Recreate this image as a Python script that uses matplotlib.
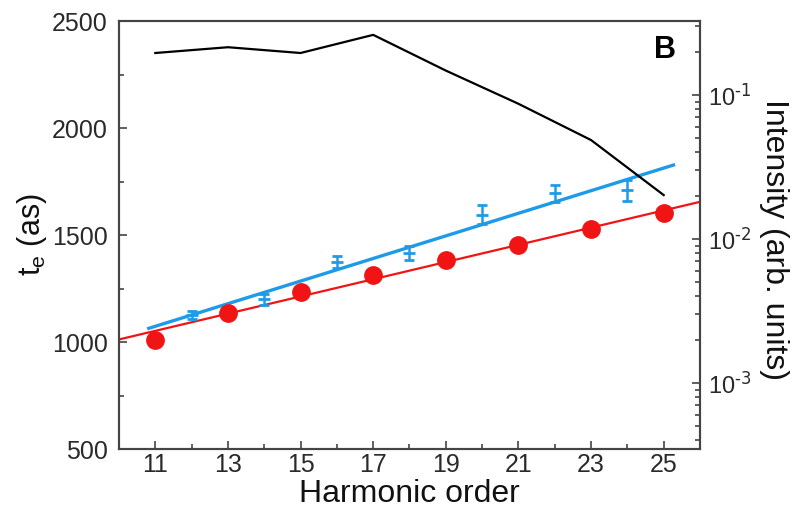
import matplotlib
matplotlib.use('Agg')
import matplotlib.pyplot as plt
from matplotlib.ticker import MultipleLocator, LogLocator, NullFormatter, FixedLocator, FixedFormatter

plt.rcParams['font.family'] = ['Liberation Sans', 'DejaVu Sans']
plt.rcParams['mathtext.default'] = 'regular'

# Data
harm_odd = [11, 13, 15, 17, 19, 21, 23, 25]
te_red = [1010, 1134, 1232, 1313, 1383, 1453, 1528, 1604]
harm_even = [12, 14, 16, 18, 20, 22, 24]
te_blue = [1126, 1200, 1375, 1415, 1595, 1695, 1708]
te_blue_err = [20, 26, 28, 33, 45, 40, 50]
red_fit_x = [10, 26]
red_fit_y = [1012, 1655]
blue_fit_x = [10.82, 25.27]
blue_fit_y = [1064, 1827]
intensity = [0.196, 0.215, 0.196, 0.262, 0.148, 0.087, 0.0487, 0.0202]

x_ticks = [11, 13, 15, 17, 19, 21, 23, 25]
y_ticks = [500, 1000, 1500, 2000, 2500]
r_ticks = [1e-3, 1e-2, 1e-1]
r_tick_labels = [r'10$^{\text{-3}}$', r'10$^{\text{-2}}$', r'10$^{\text{-1}}$']

BLUE = '#1E9BE8'
RED = '#F01414'
SPINE = '#444444'

fig = plt.figure(figsize=(7.97, 5.16), dpi=100)
ax = fig.add_axes([0.1493, 0.1298, 0.7290, 0.8295])

ax.plot(red_fit_x, red_fit_y, color=RED, lw=1.6, zorder=2)
ax.plot(harm_odd, te_red, 'o', color=RED, ms=12.5, zorder=3)
ax.plot(blue_fit_x, blue_fit_y, color=BLUE, lw=2.4, zorder=2)
ax.errorbar(harm_even, te_blue, yerr=te_blue_err, fmt='_', color=BLUE,
            ms=8, mew=2, capsize=3.5, capthick=2, elinewidth=1.8, zorder=3)

ax.set_xlim(10, 26)
ax.set_ylim(500, 2500)
ax.set_xticks(x_ticks)
ax.xaxis.set_minor_locator(MultipleLocator(1))
ax.set_yticks(y_ticks)
ax.yaxis.set_minor_locator(MultipleLocator(250))
ax.tick_params(axis='both', which='both', direction='in', colors=SPINE,
               labelcolor='#2a2a2a', width=1.2)
ax.tick_params(axis='both', which='major', length=6, labelsize=18)
ax.tick_params(axis='both', which='minor', length=3.5)
ax.tick_params(axis='y', which='major', pad=8)
ax.tick_params(axis='x', which='major', pad=3)
ax.tick_params(top=False, which='both')
for s in ax.spines.values():
    s.set_color(SPINE)
    s.set_linewidth(1.5)

ax.set_xlabel('Harmonic order', fontsize=23, labelpad=1, color='#111111')
ax.set_ylabel('t$_{e}$ (as)', fontsize=22, labelpad=2, color='#111111')

ax.text(0.940, 0.933, 'B', transform=ax.transAxes, fontsize=22,
        fontweight='bold', ha='center', va='center')

ax2 = ax.twinx()
ax2.set_yscale('log')
ax2.plot(harm_odd, intensity, color='black', lw=1.6, zorder=4)
ax2.set_ylim(3.48e-4, 0.327)
ax2.yaxis.set_major_locator(FixedLocator(r_ticks))
ax2.yaxis.set_major_formatter(FixedFormatter(r_tick_labels))
ax2.yaxis.set_minor_locator(LogLocator(base=10, subs=tuple(range(2, 10)), numticks=20))
ax2.yaxis.set_minor_formatter(NullFormatter())
ax2.tick_params(axis='y', which='both', direction='in', colors=SPINE,
                labelcolor='#2a2a2a', width=1.2)
ax2.tick_params(axis='y', which='major', length=6, labelsize=17, pad=6)
ax2.tick_params(axis='y', which='minor', length=3.5)
for s in ax2.spines.values():
    s.set_color(SPINE)
    s.set_linewidth(1.5)
ax2.set_ylabel('Intensity (arb. units)', fontsize=23, rotation=270,
               color='#111111', va='center', ha='center')
ax2.yaxis.set_label_coords(1.127, 0.49)

fig.savefig('out.png', dpi=100)
